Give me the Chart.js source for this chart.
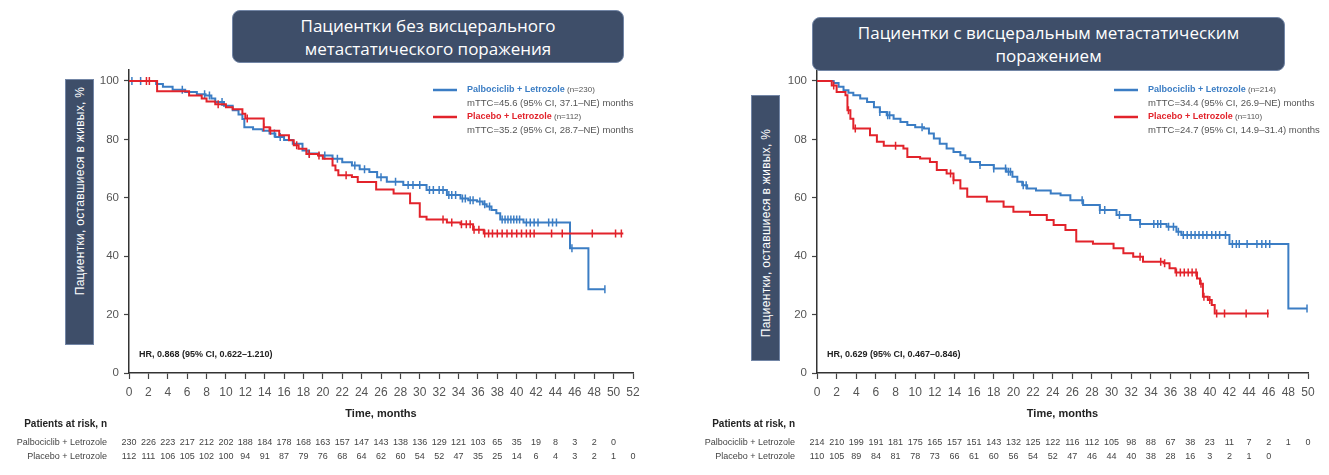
<!DOCTYPE html>
<html lang="ru">
<head>
<meta charset="UTF-8">
<script src="https://cdn.jsdelivr.net/npm/chart.js@4.4.0/dist/chart.umd.min.js"></script>
<title>TTC</title>
<style>
    body { margin: 0; width: 1329px; height: 475px; background: #fff; position: relative; overflow: hidden; }
    canvas { position: absolute; top: 0; }
    .title-box {
        position: absolute; background: #3e4e69; border: 1px solid #7386a6; border-radius: 8px;
        color: #fff; font-family: "Open Sans", sans-serif; font-size: 17px; line-height: 23px;
        text-align: center; box-sizing: border-box; display: flex; align-items: center; justify-content: center;
    }
    .ylab { position: absolute; background: #3e4e69; border: 1px solid #7386a6; box-sizing: border-box; }
    .ylab span {
        position: absolute; left: 50%; white-space: nowrap; color: #fff;
        font-family: "Liberation Sans", Arial, sans-serif; font-size: 12px; letter-spacing: 0.3px;
        transform: translate(-50%, -50%) rotate(-90deg);
    }
</style>
</head>
<body>
<canvas id="left" width="665" height="475" style="left:0"></canvas>
<canvas id="right" width="664" height="475" style="left:665px"></canvas>

<div class="title-box" style="left:232px; top:10px; width:392px; height:53px;">Пациентки без висцерального<br>метастатического поражения</div>
<div class="title-box" style="left:812px; top:17px; width:473px; height:54px;">Пациентки с висцеральным метастатическим<br>поражением</div>
<div class="ylab" style="left:65px; top:79px; width:29px; height:266px;"><span style="top:111px">Пациентки, оставшиеся в живых, %</span></div>
<div class="ylab" style="left:751px; top:95px; width:29px; height:266px;"><span style="top:137px">Пациентки, оставшиеся в живых, %</span></div>

<script>
// ---- data ----
// no visceral disease (left)
const nvPalboT = [0, 2.8, 3.5, 4.5, 5.8, 7.0, 7.9, 8.5, 8.9, 9.8, 10.7, 11.3, 11.7, 11.9, 12.8, 13.8, 14.5, 15.1, 16.0, 16.9, 17.9, 18.5, 19.6, 21.0, 22.0, 23.0, 23.8, 24.8, 25.6, 26.6, 28.3, 30.7, 32.8, 34.2, 35.0, 35.9, 36.5, 36.9, 37.4, 37.9, 38.3, 40.7, 45.5, 47.4, 49.1];
const nvPalboS = [100, 99, 98, 97, 96.2, 95.5, 95, 94, 92.8, 91.5, 90, 88.5, 87, 84.2, 83.5, 83, 82, 80.8, 79.8, 78.5, 76.2, 75.2, 74.5, 73.4, 72.2, 71.1, 69.8, 68.8, 67, 65.5, 64.4, 62.7, 61, 59.8, 59.2, 58.7, 57.8, 57, 55.8, 54.7, 52.6, 51.5, 42.7, 28.7, 28.7];
const nvPalboCens = [0.3, 1.2, 5.5, 7.8, 8.3, 9.6, 15.0, 15.6, 18.6, 20.2, 21.5, 23.3, 24.3, 26.0, 27.5, 28.8, 29.3, 30.0, 31.0, 31.4, 32.0, 32.4, 33.0, 33.3, 33.7, 34.4, 34.7, 35.2, 35.5, 36.2, 36.7, 37.2, 38.5, 38.8, 39.1, 39.4, 39.7, 40.0, 40.3, 41.0, 41.4, 41.8, 42.2, 43.3, 43.7, 44.1, 45.7, 49.1];
const nvPlacT = [0, 2.9, 6.2, 7.5, 8.0, 8.9, 10.0, 10.7, 11.7, 12.0, 13.9, 14.5, 15.5, 16.5, 17.0, 17.5, 18.3, 19.5, 20.0, 21.0, 21.3, 21.6, 23.0, 23.6, 25.5, 27.3, 29.0, 30.0, 30.7, 32.8, 34.2, 35.5, 36.6, 51.0];
const nvPlacS = [100, 96.5, 95, 94, 93, 92, 91, 90.3, 88.8, 87.2, 84.2, 83, 81.4, 79.7, 78, 76.8, 75, 74.5, 73.4, 71.1, 69.4, 67.7, 67.1, 65.4, 62.8, 61.5, 58.1, 53.5, 52.6, 51.5, 50.9, 49.1, 47.8, 47.8];
const nvPlacCens = [1.8, 2.1, 9.2, 12.2, 13.9, 14.6, 17.3, 18.6, 19.6, 22.4, 32.4, 33.3, 34.3, 34.8, 35.2, 35.6, 36.1, 36.7, 37.1, 37.5, 38.0, 38.5, 39.0, 39.5, 40.0, 40.5, 41.0, 41.4, 41.8, 43.6, 44.7, 47.8, 50.2, 50.8];
const nvPalboRisk = [230, 226, 223, 217, 212, 202, 188, 184, 178, 168, 163, 157, 147, 143, 138, 136, 129, 121, 103, 65, 35, 19, 8, 3, 2, 0];
const nvPlacRisk = [112, 111, 106, 105, 102, 100, 94, 91, 87, 79, 76, 68, 64, 62, 60, 54, 52, 47, 35, 25, 14, 6, 4, 3, 2, 1, 0];

// visceral disease (right)
const vPalboT = [0, 1.7, 2.2, 2.7, 3.2, 3.7, 4.4, 5.1, 5.8, 6.4, 7.1, 7.8, 8.5, 9.2, 10.0, 10.9, 11.4, 11.9, 12.5, 13.2, 13.9, 14.6, 15.1, 15.6, 16.6, 18.0, 19.3, 19.9, 20.4, 20.9, 21.4, 22.3, 23.8, 24.8, 25.8, 27.1, 28.8, 30.5, 31.9, 32.9, 35.6, 36.6, 37.1, 42.0, 48.0, 49.9];
const vPalboS = [100, 99.3, 98, 96.8, 96, 95.1, 94, 92.8, 91, 89.4, 88.3, 87.1, 86, 84.9, 84.2, 83.7, 82, 80.3, 78.5, 76.9, 75.7, 74.6, 73.5, 72.3, 71.2, 70, 68.9, 67.2, 65.5, 64.3, 63.2, 62.5, 61.5, 60.9, 59.2, 57.5, 55.8, 54.1, 52.4, 51, 50.1, 48.4, 47.3, 44.2, 22.1, 22.1];
const vPalboCens = [6.4, 7.2, 7.4, 10.7, 16.6, 18.0, 19.2, 19.5, 19.7, 21.0, 21.3, 27.0, 28.8, 29.3, 30.8, 32.9, 34.3, 34.7, 35.0, 35.8, 36.3, 36.8, 37.3, 37.7, 38.1, 38.5, 38.9, 39.3, 39.7, 40.2, 40.6, 41.0, 41.6, 42.3, 42.7, 43.0, 43.8, 44.8, 45.3, 45.7, 46.1, 49.9];
const vPlacT = [0, 1.5, 2.0, 2.9, 3.1, 3.4, 3.7, 5.4, 6.1, 6.8, 8.8, 9.2, 10.5, 11.5, 12.2, 13.2, 13.9, 14.6, 15.3, 17.3, 19.0, 20.0, 21.7, 23.4, 24.1, 25.3, 26.4, 28.1, 30.2, 31.2, 32.2, 33.2, 35.3, 35.9, 36.5, 38.7, 39.0, 39.3, 39.8, 40.2, 40.5, 46.0];
const vPlacS = [100, 98.5, 96.2, 95.1, 90, 87.1, 83.7, 81.4, 79.2, 77.8, 76.9, 74, 73.5, 72.3, 69.5, 68.3, 66, 63.2, 60.4, 58.7, 56.9, 55.2, 54.1, 52.4, 50.7, 49, 45, 44.3, 42.7, 41, 39.8, 38.1, 37.6, 35.9, 34.4, 32.4, 30.6, 26.1, 25, 23.3, 20.4, 20.4];
const vPlacCens = [1.7, 3.2, 3.9, 8.0, 13.6, 13.9, 32.9, 35.0, 35.4, 36.6, 37.0, 37.4, 37.8, 38.2, 38.6, 39.1, 39.4, 40.0, 40.7, 41.5, 43.7, 45.9];
const vPalboRisk = [214, 210, 199, 191, 181, 175, 165, 157, 151, 143, 132, 125, 122, 116, 112, 105, 98, 88, 67, 38, 23, 11, 7, 2, 1, 0];
const vPlacRisk = [110, 105, 89, 84, 81, 78, 73, 66, 61, 60, 56, 54, 52, 47, 46, 44, 40, 38, 28, 16, 3, 2, 1, 0];

const yTickValues = [0, 20, 40, 60, 80, 100];
const yTicksLeft = ['0', '20', '40', '60', '80', '100'];
const yTicksRight = ['0', '20', '40', '60', '08', '100'];

const BLUE = '#3b7dc4';
const RED = '#e2232b';
const FONT = '"Liberation Sans", Arial, sans-serif';
Chart.defaults.font.family = FONT;

// survival level at time t (KM step)
function levelAt(ts, ss, t) {
    let v = ss[0];
    for (let i = 0; i < ts.length; i++) if (ts[i] <= t) v = ss[i];
    return v;
}

function curve(ts, ss, color) {
    return { data: ts.map((t, i) => ({ x: t, y: ss[i] })), borderColor: color, borderWidth: 2,
        stepped: 'before', pointRadius: 0, fill: false };
}
function censors(cs, ts, ss, color) {
    return { data: cs.map(t => ({ x: t, y: levelAt(ts, ss, t) })), showLine: false, borderColor: color,
        backgroundColor: color, pointStyle: 'line', rotation: 90, pointRadius: 4, borderWidth: 1.5 };
}

function extras(p) {
    return {
        id: 'extras',
        afterDraw(chart) {
            const ctx = chart.ctx, xs = chart.scales.x, a = chart.chartArea;
            ctx.save();
            ctx.textBaseline = 'middle';
            // legend
            p.legend.forEach((e, i) => {
                const y = p.legendY[i];
                ctx.strokeStyle = e.color; ctx.lineWidth = 2.5;
                ctx.beginPath(); ctx.moveTo(p.legendX, y); ctx.lineTo(p.legendX + 24, y); ctx.stroke();
                ctx.textAlign = 'left';
                ctx.font = 'bold 9px ' + FONT; ctx.fillStyle = e.color;
                ctx.fillText(e.name, p.legendX + 34, y);
                const w = ctx.measureText(e.name).width;
                ctx.font = '8px ' + FONT; ctx.fillStyle = '#555';
                ctx.fillText(' ' + e.n, p.legendX + 34 + w, y);
                ctx.font = '9.5px ' + FONT;
                ctx.fillText(e.median, p.legendX + 34, y + 13.5);
            });
            // hazard ratio
            ctx.font = 'bold 9px ' + FONT; ctx.fillStyle = '#222';
            ctx.fillText(p.hr, a.left + 10, 355);
            // axis title
            ctx.textAlign = 'center'; ctx.font = 'bold 11px ' + FONT;
            ctx.fillText('Time, months', (a.left + a.right) / 2, 414);
            // patients at risk
            ctx.textAlign = 'right'; ctx.font = 'bold 10px ' + FONT;
            ctx.fillText('Patients at risk, n', p.riskLabelX, 424);
            ctx.font = '9px ' + FONT; ctx.fillStyle = '#444';
            p.risk.forEach((r, i) => {
                const y = 442.7 + i * 14;
                ctx.textAlign = 'right';
                ctx.fillText(r.label, p.riskLabelX, y);
                ctx.textAlign = 'center';
                r.values.forEach((v, k) => ctx.fillText(String(v), xs.getPixelForValue(k * 2), y));
            });
            ctx.restore();
        }
    };
}

function makeChart(id, p) {
    const areaTop = 373 - 104 * 2.92;
    return new Chart(document.getElementById(id), {
        type: 'line',
        data: { datasets: p.datasets },
        options: {
            responsive: false, animation: false, devicePixelRatio: 1,
            layout: { padding: { top: areaTop, right: p.canvasW - p.areaRight, left: 0, bottom: 0 } },
            plugins: { legend: { display: false }, tooltip: { enabled: false } },
            scales: {
                x: {
                    type: 'linear', min: 0, max: p.xMax,
                    afterFit: s => { s.height = 475 - 373; },
                    afterBuildTicks: s => { s.ticks = []; for (let v = 0; v <= p.xMax; v += 2) s.ticks.push({ value: v }); },
                    ticks: { color: '#555', font: { size: 12 }, padding: 6, maxRotation: 0, autoSkip: false },
                    grid: { drawOnChartArea: false, drawTicks: true, tickLength: 6, color: '#444', tickWidth: 1.2 },
                    border: { display: true, color: '#333', width: 1.5 }
                },
                y: {
                    min: 0, max: 104,
                    afterFit: s => { s.width = p.areaLeft; },
                    afterBuildTicks: s => { s.ticks = yTickValues.map(v => ({ value: v })); },
                    ticks: { color: '#555', font: { size: 11.5 }, padding: 5,
                        callback: v => p.yLabels[yTickValues.indexOf(v)] },
                    grid: { drawOnChartArea: false, drawTicks: true, tickLength: 5, color: '#444', tickWidth: 1.2 },
                    border: { display: true, color: '#333', width: 1.5 }
                }
            }
        },
        plugins: [extras(p)]
    });
}

makeChart('left', {
    canvasW: 665, areaLeft: 129, areaRight: 633, xMax: 52, yLabels: yTicksLeft,
    datasets: [
        curve(nvPlacT, nvPlacS, RED), censors(nvPlacCens, nvPlacT, nvPlacS, RED),
        curve(nvPalboT, nvPalboS, BLUE), censors(nvPalboCens, nvPalboT, nvPalboS, BLUE)
    ],
    legendX: 433, legendY: [90, 117],
    legend: [
        { color: BLUE, name: 'Palbociclib + Letrozole', n: '(n=230)', median: 'mTTC=45.6 (95% CI, 37.1–NE) months' },
        { color: RED, name: 'Placebo + Letrozole', n: '(n=112)', median: 'mTTC=35.2 (95% CI, 28.7–NE) months' }
    ],
    hr: 'HR, 0.868 (95% CI, 0.622–1.210)',
    riskLabelX: 107,
    risk: [
        { label: 'Palbociclib + Letrozole', values: nvPalboRisk },
        { label: 'Placebo + Letrozole', values: nvPlacRisk }
    ]
});

makeChart('right', {
    canvasW: 664, areaLeft: 152, areaRight: 643, xMax: 50, yLabels: yTicksRight,
    datasets: [
        curve(vPlacT, vPlacS, RED), censors(vPlacCens, vPlacT, vPlacS, RED),
        curve(vPalboT, vPalboS, BLUE), censors(vPalboCens, vPalboT, vPalboS, BLUE)
    ],
    legendX: 449, legendY: [90, 117],
    legend: [
        { color: BLUE, name: 'Palbociclib + Letrozole', n: '(n=214)', median: 'mTTC=34.4 (95% CI, 26.9–NE) months' },
        { color: RED, name: 'Placebo + Letrozole', n: '(n=110)', median: 'mTTC=24.7 (95% CI, 14.9–31.4) months' }
    ],
    hr: 'HR, 0.629 (95% CI, 0.467–0.846)',
    riskLabelX: 130,
    risk: [
        { label: 'Palbociclib + Letrozole', values: vPalboRisk },
        { label: 'Placebo + Letrozole', values: vPlacRisk }
    ]
});
</script>
</body>
</html>
